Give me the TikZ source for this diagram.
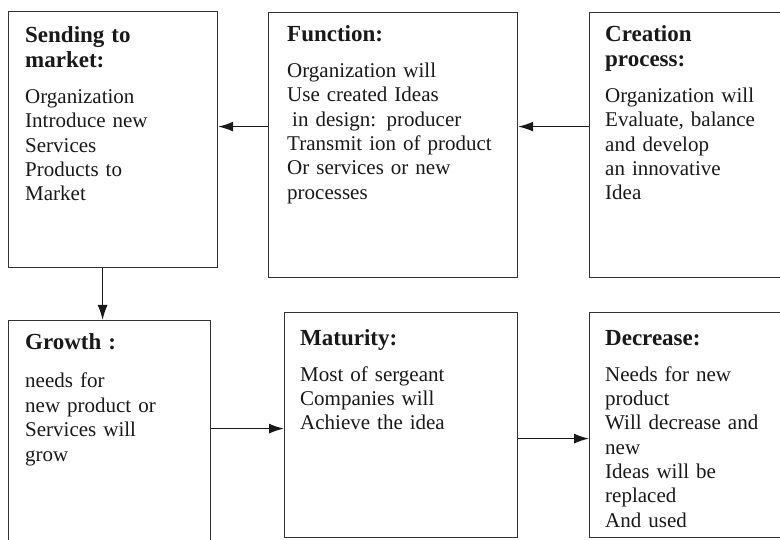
\documentclass[tikz,border=0pt]{standalone}
\usepackage{fontspec}
\setmainfont{Liberation Serif}
\usetikzlibrary{arrows.meta}

% heading of a stage box
\newcommand{\hd}[1]{{\fontsize{23}{25}\selectfont\bfseries #1}}

\begin{document}
\begin{tikzpicture}[x=1pt,y=-1pt,
	stage/.style={draw=black!80,line width=1.2pt,inner sep=0pt,anchor=north west},
	txt/.style={anchor=base west,align=left,inner sep=0pt,text width=200pt,
		font=\fontsize{21}{24.4}\selectfont,text=black!90},
	arr/.style={-{Latex[length=15pt,width=10pt]},line width=1.3pt,draw=black!90}]
		\clip (0,0) rectangle (780,540);
		\fill[white] (0,0) rectangle (780,540);
		%
		% top row
		\node[stage,minimum width=209pt,minimum height=256pt] (send) at (8,11) {};
		\node[stage,minimum width=249pt,minimum height=265pt] (func) at (268,12) {};
		\node[stage,minimum width=220pt,minimum height=265pt] (crea) at (589,12) {};
		% bottom row
		\node[stage,minimum width=202pt,minimum height=240pt] (grow) at (8,320) {};
		\node[stage,minimum width=233pt,minimum height=225pt] (mat) at (284,312) {};
		\node[stage,minimum width=220pt,minimum height=225pt] (decr) at (589,312) {};
		%
		% texts
		\node[txt] (sendtxt) at ([xshift=17pt,yshift=-32pt]send.north west)
			{\hd{Sending to}\\ \hd{market:}\\[11.6pt]
			Organization\\ Introduce new\\ Services\\ Products to\\ Market};
		\node[txt,text width=230pt] (functxt) at ([xshift=19pt,yshift=-30pt]func.north west)
			{\hd{Function:}\\[11pt]
			Organization will\\ Use created Ideas\\ \hspace*{5pt}in design: producer\\
			Transmit ion of product\\ Or services or new\\ processes};
		\node[txt] (creatxt) at ([xshift=16pt,yshift=-30pt]crea.north west)
			{\hd{Creation}\\ \hd{process:}\\[11.6pt]
			Organization will\\ Evaluate, balance\\ and develop\\ an innovative\\ Idea};
		\node[txt] (growtxt) at ([xshift=17pt,yshift=-29pt]grow.north west)
			{\hd{Growth :}\\[14.6pt]
			needs for\\ new product or\\ Services will\\ grow};
		\node[txt] (mattxt) at ([xshift=16pt,yshift=-33pt]mat.north west)
			{\hd{Maturity:}\\[11.6pt]
			Most of sergeant\\ Companies will\\ Achieve the idea};
		\node[txt] (decrtxt) at ([xshift=16pt,yshift=-33pt]decr.north west)
			{\hd{Decrease:}\\[11.6pt]
			Needs for new\\ product\\ Will decrease and\\ new\\ Ideas will be\\ replaced\\ And used};
		%
		% connector start points
		\coordinate (f1) at ([yshift=18.5pt]func.west);
		\coordinate (c1) at ([yshift=18.5pt]crea.west);
		\coordinate (s1) at ([xshift=-10.5pt]send.south);
		\coordinate (g1) at ([yshift=12pt]grow.east);
		\coordinate (m1) at ([yshift=-13.5pt]mat.east);
		%
		% horizontal arrows
		\draw[arr] (f1) -- (f1 -| send.east);
		\draw[arr] (c1) -- (c1 -| func.east);
		\draw[arr] (g1) -- (g1 -| mat.west);
		\draw[arr] (m1) -- (m1 -| decr.west);
		% vertical arrow
		\draw[arr] (s1) -- (s1 |- grow.north);
\end{tikzpicture}
\end{document}
